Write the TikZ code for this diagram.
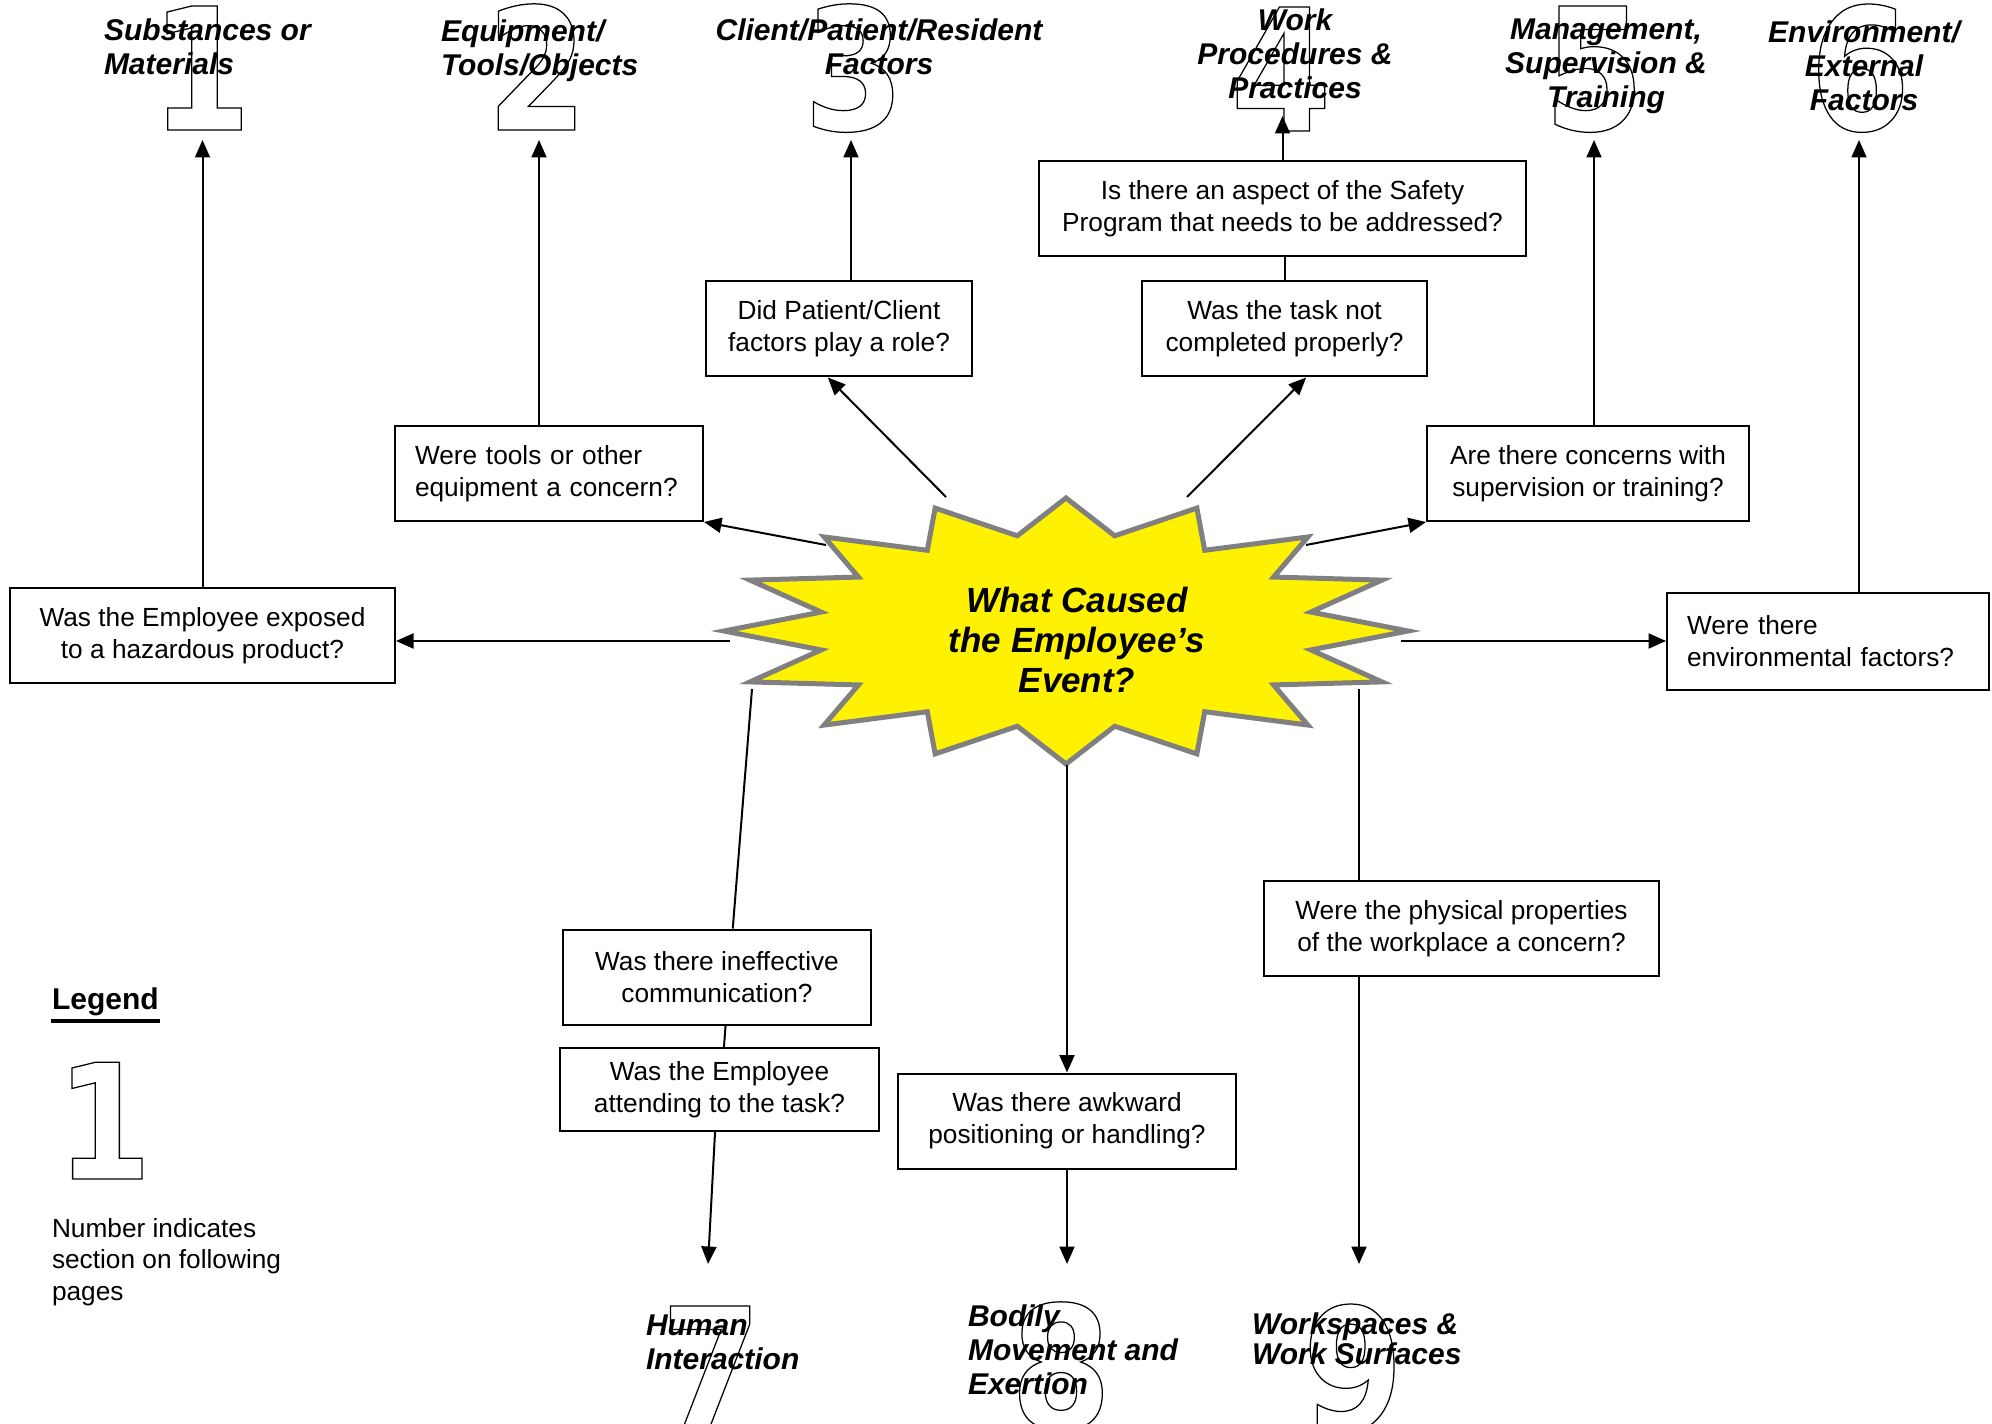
\documentclass[tikz,border=0pt]{standalone}
\usepackage{fontspec}
\setmainfont{Liberation Sans}
\newfontfamily\digitfont[FakeStretch=0.85]{DejaVu Sans}
\usetikzlibrary{arrows.meta,calc}
\newcommand\outl[1]{\special{pdf:literal direct 1 Tr 0.5 w}#1\special{pdf:literal direct 0 Tr}}

\begin{document}
\begin{tikzpicture}[x=0.4pt,y=-0.4pt,>={Triangle[length=7pt,width=6pt]},line width=.8pt,every node/.style={font=\fontsize{10.5}{12.8}\selectfont},qbox/.style={draw,fill=white,align=center,inner sep=0pt,minimum height=38pt},lbox/.style={qbox,align=left,text width=#1},head/.style={inner sep=0pt,font=\fontsize{12}{13.6}\selectfont\bfseries\itshape},numeral/.style={anchor=base,font=\digitfont\bfseries\fontsize{68}{68}\selectfont}]
\useasboundingbox (0,0) rectangle (1992,1424);

% section numbers
\node[numeral] (n1) at (201,130) {\outl{1}};
\node[numeral] (n2) at (537,130) {\outl{2}};
\node[numeral] (n3) at (854,130) {\outl{3}};
\node[numeral] (n4) at (1281,131) {\outl{4}};
\node[numeral] (n5) at (1594,130) {\outl{5}};
\node[numeral] (n6) at (1860,130) {\outl{6}};
\node[numeral] (n7) at (711,1430) {\outl{7}};
\node[numeral] (n8) at (1061,1428) {\outl{8}};
\node[numeral] (n9) at (1353,1430) {\outl{9}};

\node[head,anchor=west,align=left] (h1) at (103,46.5) {Substances or\\Materials};
\node[head,anchor=west,align=left] (h2) at (440,50.5) {Equipment/\\Tools/Objects};
\node[head,align=center] (h3) at (879,46.5) {Client/Patient/Resident\\Factors};
\node[head,align=center] (h4) at (1295,54) {Work\\Procedures \&\\Practices};
\node[head,align=center] (h5) at (1606,66) {Management,\\Supervision \&\\Training};
\node[head,align=center] (h6) at (1864,65.5) {Environment/\\External\\Factors};
\node[head,anchor=west,align=left] (h7) at (645,1342) {Human\\Interaction};
\node[head,anchor=west,align=left] (h8) at (967,1350) {Bodily\\Movement and\\Exertion};
\node[head,anchor=west,align=left,font=\fontsize{12}{12}\selectfont\bfseries\itshape] (h9) at (1251,1339) {Workspaces \&\\Work Surfaces};

% the event
\filldraw[fill=yellow,draw=gray,line width=2pt] plot[samples at={0,...,31},variable=\k] ({1066+342*(1-0.27*mod(\k,2))*cos(\k*11.25)},{631+133*(1-0.27*mod(\k,2))*sin(\k*11.25)}) -- cycle;
\node[font=\fontsize{14}{16}\selectfont\bfseries\itshape,align=center] (ev) at (1077,640) {What Caused\\the Employee’s\\Event?};
\coordinate (sW) at (730,641);
\coordinate (sNW) at (826,545);
\coordinate (sN1) at (946,497);
\coordinate (sN2) at (1187,497);
\coordinate (sNE) at (1306,545);
\coordinate (sE) at (1401,641);
\coordinate (sSW) at (752,689);
\coordinate (sS) at (1067,765);
\coordinate (sSE) at (1359,689);

% questions
\node[qbox,minimum width=154pt] (b1) at (202.5,635.5) {Was the Employee exposed\\to a hazardous product?};
\node[lbox=107.2pt,minimum width=123.2pt] (b2) at (549,473.5) {Were tools or other\\equipment a concern?};
\node[qbox,minimum width=106.4pt] (b3) at (839,329) {Did Patient/Client\\factors play a role?};
\node[qbox,minimum width=194.8pt] (b4a) at (1282.5,209) {Is there an aspect of the Safety\\Program that needs to be addressed?};
\node[qbox,minimum width=114pt] (b4b) at (1284.5,329) {Was the task not\\completed properly?};
\node[qbox,minimum width=128.8pt] (b5) at (1588,473.5) {Are there concerns with\\supervision or training?};
\node[lbox=112.8pt,minimum width=128.8pt,minimum height=38.8pt] (b6) at (1828,641.5) {Were there\\environmental factors?};
\node[qbox,minimum width=123.2pt] (b7a) at (717,977) {Was there ineffective\\communication?};
\node[qbox,minimum width=127.6pt,minimum height=33.2pt] (b7b) at (719.5,1089.5) {Was the Employee\\attending to the task?};
\node[qbox,minimum width=135.2pt] (b8) at (1067,1121) {Was there awkward\\positioning or handling?};
\node[qbox,minimum width=158pt] (b9) at (1461.5,928.5) {Were the physical properties\\of the workplace a concern?};

\coordinate (t1) at (203,140);
\coordinate (t2) at (539,140);
\coordinate (t3) at (851,140);
\coordinate (t4) at (1281,116);
\coordinate (t5) at (1594,140);
\coordinate (t6) at (1859,140);
\coordinate (e7) at (708,1264);
\coordinate (e8) at (1067,1264);
\coordinate (e9) at (1359,1264);

\draw[->] (b1.north) -- (b1.north |- t1);
\draw[->] (t2 |- b2.north) -- (t2);
\draw[->] (t3 |- b3.north) -- (t3);
\draw[->] (b4a.north) -- (b4a.north |- t4);
\draw (b4b.north) -- (b4b.north |- b4a.south);
\draw[->] (t5 |- b5.north) -- (t5);
\draw[->] (t6 |- b6.north) -- (t6);
\draw[->] (sW) -- (sW -| b1.east);
\draw[->] (sNW) -- (b2.south east);
\draw[->] (sN1) -- (b3.-103);
\draw[->] (sN2) -- (b4b.-66);
\draw[->] (sNE) -- (b5.south west);
\draw[->] (sE) -- (sE -| b6.west);
\draw (sSW) -- (b7a.72);
\draw (b7a.-80) -- (b7b.84);
\draw[->] (b7b.-96) -- (e7);
\draw[->] (sS) -- (b8.north);
\draw[->] (b8.south) -- (e8);
\draw (sSE) -- (sSE |- b9.north);
\draw[->] (sSE |- b9.south) -- (e9);

% legend
\node[anchor=west,inner sep=0pt,font=\fontsize{12}{14}\selectfont\bfseries] (leg) at (51,1002) {Legend};
\draw[line width=1.4pt] (leg.south west) ++(0,4) -- ($(leg.south east)+(0,4)$);
\node[numeral,font=\digitfont\bfseries\fontsize{64}{64}\selectfont] (n0) at (104,1179) {\outl{1}};
\node[anchor=north west,align=left,inner sep=0pt,font=\fontsize{10.5}{12.6}\selectfont] (legtxt) at (51,1217) {Number indicates\\section on following\\pages};
\end{tikzpicture}
\end{document}
